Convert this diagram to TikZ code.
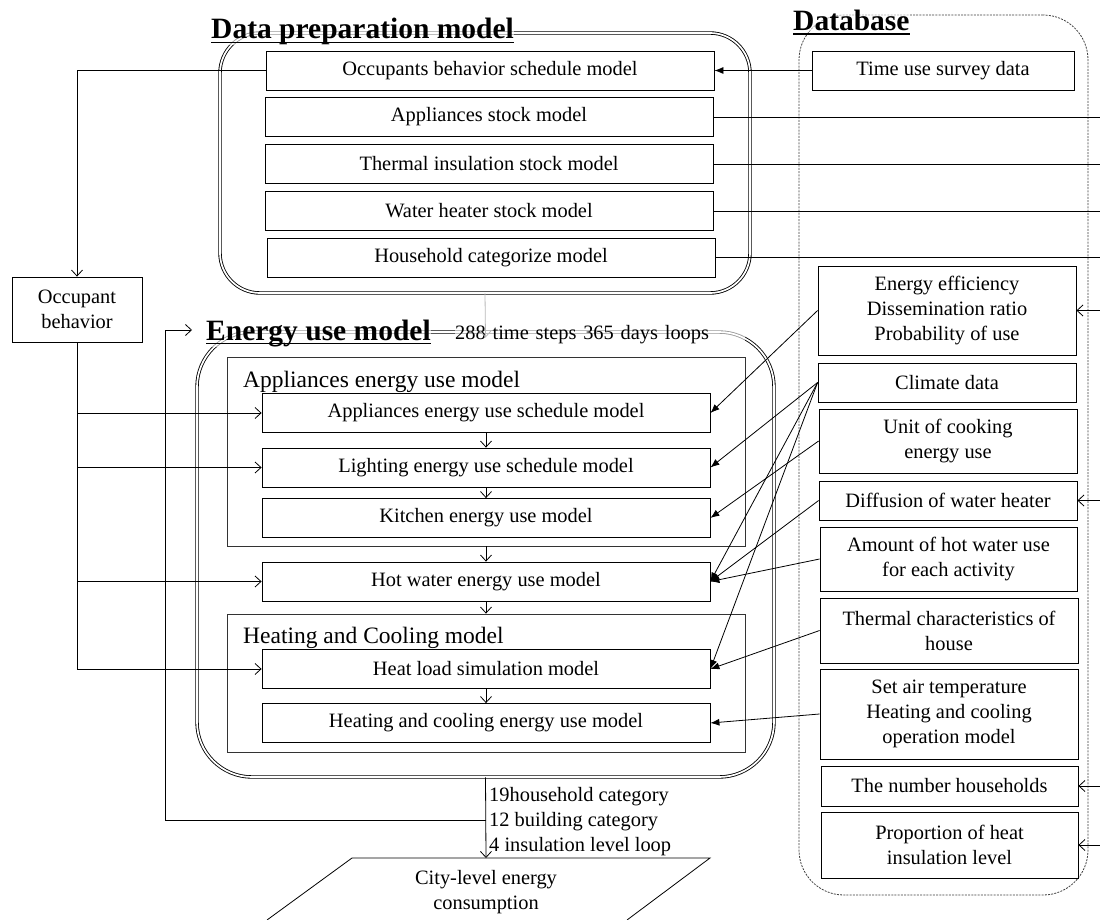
\documentclass[tikz,border=0pt]{standalone}
\usepackage{fontspec}
\setmainfont{Liberation Serif}
\usetikzlibrary{arrows.meta}
\newcommand\bodyf{\fontsize{20.4}{25}\selectfont}
\newcommand\hdrf{\fontsize{23.5}{27}\selectfont}
\newcommand\ttlf{\fontsize{29.5}{34}\selectfont\bfseries}
\begin{document}
\begin{tikzpicture}[x=1pt,y=-1pt,
  box/.style={draw, line width=0.8pt, inner sep=1pt, align=center, font=\bodyf, minimum height=39pt},
  grp/.style={draw, line width=0.8pt, black!80, inner sep=0pt},
  dbl/.style={draw, double, double distance=1.7pt, line width=0.85pt, black, inner sep=0pt},
  oarr/.style={-{Straight Barb[length=6pt,width=11pt]}, line width=0.8pt},
  farr/.style={-{Latex[length=9pt,width=7pt]}, line width=0.8pt},
  ttl/.style={font=\ttlf, inner sep=0pt, anchor=base west, fill=white, fill opacity=0.6, text opacity=1},
  hdr/.style={font=\hdrf, inner sep=0pt, anchor=base west},
  lbl/.style={font=\bodyf, inner sep=0pt, align=left},
  uline/.style={line width=1.5pt}
]
\useasboundingbox (0,0) rectangle (1100,920);
\fill[white] (0,0) rectangle (1100,920);

% containers
\node[dbl, rounded corners=40pt, minimum width=530pt, minimum height=260pt] (dpm) at (485,163) {};
\node[dbl, rounded corners=55pt, minimum width=577pt, minimum height=445pt] (eum) at (485.5,554.5) {};
\node[draw, black!75, line width=0.8pt, dash pattern=on 2pt off 1.2pt, rounded corners=45pt, inner sep=0pt, minimum width=289pt, minimum height=880pt] (db) at (943.5,455) {};
\node[grp, minimum width=518pt, minimum height=189pt] (appl) at (486,451.5) {};
\node[grp, minimum width=518pt, minimum height=138pt] (heat) at (486,683) {};

% titles
\node[ttl] (dpt) at (211,39) {Data preparation model};
\draw[uline] ([yshift=-3.5pt]dpt.base west) -- ([yshift=-3.5pt]dpt.base east);
\node[ttl] (dbt) at (793,31) {Database};
\draw[uline] ([yshift=-3pt]dbt.base west) -- ([yshift=-3pt]dbt.base east);
\node[ttl] (eut) at (206,340) {Energy use model};
\draw[uline] ([yshift=-3.5pt]eut.base west) -- ([yshift=-3.5pt]eut.base east);
\node[ttl, font=\bodyf, align=left, text width=290pt] (loops) at (455,339) {288 time steps 365 days loops};
\node[hdr] (applh) at (243,387) {Appliances energy use model};
\node[hdr] (heath) at (243,643) {Heating and Cooling model};

% data preparation boxes
\node[box, minimum width=448pt] (osb) at (490,70.5) {Occupants behavior schedule model};
\node[box, minimum width=448pt] (asm) at (489,117) {Appliances stock model};
\node[box, minimum width=448pt] (tsm) at (489,164) {Thermal insulation stock model};
\node[box, minimum width=448pt] (wsm) at (489,211) {Water heater stock model};
\node[box, minimum width=448pt] (hcm) at (491,257.5) {Household categorize model};

% occupant
\node[box, minimum width=130pt, minimum height=65pt] (occ) at (77,309.5) {Occupant\\behavior};

% energy use boxes
\node[box, minimum width=448pt] (aes) at (486,413) {Appliances energy use schedule model};
\node[box, minimum width=448pt] (les) at (486,467.5) {Lighting energy use schedule model};
\node[box, minimum width=448pt] (kes) at (486,518) {Kitchen energy use model};
\node[box, minimum width=448pt] (hwe) at (486,581.5) {Hot water energy use model};
\node[box, minimum width=448pt] (hls) at (486,669) {Heat load simulation model};
\node[box, minimum width=448pt] (hce) at (486,723) {Heating and cooling energy use model};

% database boxes
\node[box, minimum width=262pt] (tus) at (943,70.5) {Time use survey data};
\node[box, minimum width=258pt, minimum height=89pt] (ee) at (947,310.5) {Energy efficiency\\Dissemination ratio\\Probability of use};
\node[box, minimum width=258pt] (cd) at (947,382.5) {Climate data};
\node[box, minimum width=258pt, minimum height=64pt] (uc) at (948,441) {Unit of cooking\\energy use};
\node[box, minimum width=258pt] (dw) at (948,500.5) {Diffusion of water heater};
\node[box, minimum width=257pt, minimum height=64pt] (ah) at (948.5,559) {Amount of hot water use\\for each activity};
\node[box, minimum width=258pt, minimum height=65pt] (tc) at (949,630.5) {Thermal characteristics of\\house};
\node[box, minimum width=258pt, minimum height=90pt] (sa) at (949,714) {Set air temperature\\Heating and cooling\\operation model};
\node[box, minimum width=257pt, minimum height=40pt] (nh) at (949.5,786) {The number households};
\node[box, minimum width=257pt, minimum height=66pt] (ph) at (949.5,845) {Proportion of heat\\insulation level};

% output
\coordinate (ptop) at (486,858);
\draw[line width=0.8pt] (267,920) -- (352,858) -- (710,858) -- (627,920);
\node[font=\bodyf, align=center, inner sep=0pt] (city) at (486,892) {City-level energy\\consumption};
\node[lbl, anchor=west] (cats) at (489,822) {19household category\\12 building category\\4 insulation level loop};

% right edge
\coordinate (R) at (1100,0);
\draw[line width=0.8pt] (asm.east) -- (asm.east -| R);
\draw[line width=0.8pt] (tsm.east) -- (tsm.east -| R);
\draw[line width=0.8pt] (wsm.east) -- (wsm.east -| R);
\draw[line width=0.8pt] (hcm.east) -- (hcm.east -| R);
\draw[oarr] (ee.east -| R) -- (ee.east);
\draw[oarr] (dw.east -| R) -- (dw.east);
\draw[oarr] (nh.east -| R) -- (nh.east);
\draw[oarr] (ph.east -| R) -- (ph.east);

% time use
\draw[farr] (tus.west) -- (osb.east);

% occupant behavior
\draw[oarr] (osb.west) -- (osb.west -| occ.north) -- (occ.north);
\draw[oarr] (occ.south) |- (aes.west);
\draw[oarr] (occ.south) |- (les.west);
\draw[oarr] (occ.south) |- (hwe.west);
\draw[oarr] (occ.south) |- (hls.west);

% flow
\draw[oarr, gray!55] (dpm.south) -- ([yshift=-6pt]eum.north);
\draw[oarr] (aes.south) -- (les.north);
\draw[oarr] (les.south) -- (kes.north);
\draw[oarr] (appl.south) -- (hwe.north);
\draw[oarr] (hwe.south) -- (heat.north);
\draw[oarr] (hls.south) -- (hce.north);
\draw[oarr] (eum.south) -- (ptop);

% loop
\coordinate (lp) at (486,820);
\coordinate (ein) at (192,330);
\draw[oarr] (lp) -| ([xshift=-27pt]ein) -- (ein);

% database to energy model
\draw[farr] (ee.west) -- (aes.east);
\draw[farr] (cd.west) -- (les.east);
\draw[farr] (cd.west) -- (hwe.east);
\draw[farr] (cd.west) -- (hls.east);
\draw[farr] (uc.west) -- (kes.east);
\draw[farr] (dw.west) -- (hwe.east);
\draw[farr] (ah.west) -- (hwe.east);
\draw[farr] (tc.west) -- (hls.east);
\draw[farr] (sa.west) -- (hce.east);
\end{tikzpicture}
\end{document}
